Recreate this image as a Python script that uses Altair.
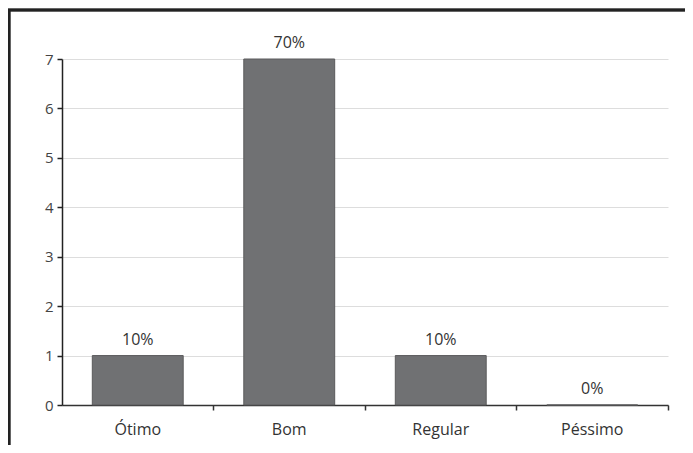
import altair as alt
import pandas as pd

categories = ["Ótimo", "Bom", "Regular", "Péssimo"]
counts = [1, 7, 1, 0]
labels = ["10%", "70%", "10%", "0%"]

df = pd.DataFrame({"cat": categories, "n": counts, "lab": labels})

FONT = "Open Sans"

x = alt.X("cat:N", sort=categories, title=None,
          scale=alt.Scale(paddingInner=0, paddingOuter=0),
          axis=alt.Axis(labelAngle=0, bandPosition=1, domainColor="#333", domainWidth=1.5,
                        tickColor="#333", tickSize=5, tickWidth=1.5, labelPadding=11,
                        labelFontSize=16, labelColor="#333", labelFont=FONT, grid=False))
y = alt.Y("n:Q", title=None,
          scale=alt.Scale(domain=[0, 7], nice=False),
          axis=alt.Axis(values=[0, 1, 2, 3, 4, 5, 6, 7], format="d", domainColor="#222",
                        domainWidth=1.5, tickColor="#222", tickSize=5, tickWidth=1.5,
                        labelPadding=4, labelFontSize=15, labelColor="#444", labelFont=FONT,
                        grid=True, gridColor="#dddddd", gridWidth=1.2))

bars = alt.Chart(df).mark_bar(width=alt.RelativeBandSize(0.6), color="#707173",
                              stroke="#5a5a5c", strokeWidth=1).encode(x=x, y=y)
text = alt.Chart(df).mark_text(dy=-16, fontSize=16, color="#333", font=FONT).encode(
    x=alt.X("cat:N", sort=categories), y="n:Q", text="lab:N")

frame = alt.Chart(df).mark_rect(fill=None, stroke="#222", strokeWidth=2.5, clip=False).encode(
    x=alt.value(-53), x2=alt.value(700), y=alt.value(-49), y2=alt.value(460))

chart = alt.layer(bars, text, frame).properties(
    width=606, height=346,
    autosize=alt.AutoSizeParams(type="none"),
    padding={"left": 54, "top": 51, "right": 17, "bottom": 40},
).configure_view(stroke=None)

chart.save("out.html", embed_options={"renderer": "svg", "actions": False})
